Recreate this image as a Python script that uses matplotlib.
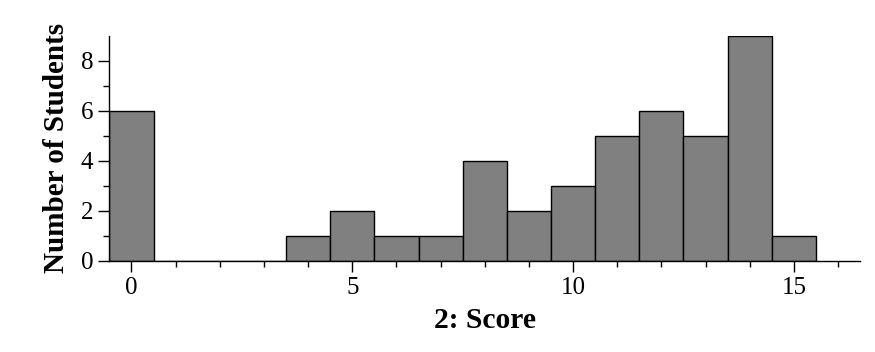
import numpy as np
import matplotlib.pyplot as plt

# score -> number of students
scores = [0, 1, 2, 3, 4, 5, 6, 7, 8, 9, 10, 11, 12, 13, 14, 15]
counts = [6, 0, 0, 0, 1, 2, 1, 1, 4, 2, 3, 5, 6, 5, 9, 1]

plt.rcParams['font.family'] = ['Liberation Serif', 'DejaVu Serif']

fig = plt.figure(figsize=(8.75, 3.52), dpi=100)
ax = fig.add_axes([0.125, 0.2594, 0.858, 0.6392])

ax.bar(scores, counts, width=1.0, color='#808080', edgecolor='black', linewidth=1.0)

ax.set_xlim(-0.5, 16.5)
ax.set_ylim(0, 9)
ax.set_xticks([0, 5, 10, 15])
ax.set_xticks(np.arange(0, 17), minor=True)
ax.set_yticks([0, 2, 4, 6, 8])
ax.set_yticks([1, 3, 5, 7], minor=True)
ax.tick_params(axis='both', which='major', length=8, width=1.0, labelsize=18, direction='out')
ax.tick_params(axis='both', which='minor', length=4, width=1.0, direction='out')

ax.spines['top'].set_visible(False)
ax.spines['right'].set_visible(False)
ax.spines['left'].set_linewidth(1.0)
ax.spines['bottom'].set_linewidth(1.0)

ax.set_xlabel('2: Score', fontsize=21.3, fontweight='bold', labelpad=6)
ax.set_ylabel('Number of Students', fontsize=21, fontweight='bold', labelpad=8)

fig.savefig('out.png', dpi=100)
